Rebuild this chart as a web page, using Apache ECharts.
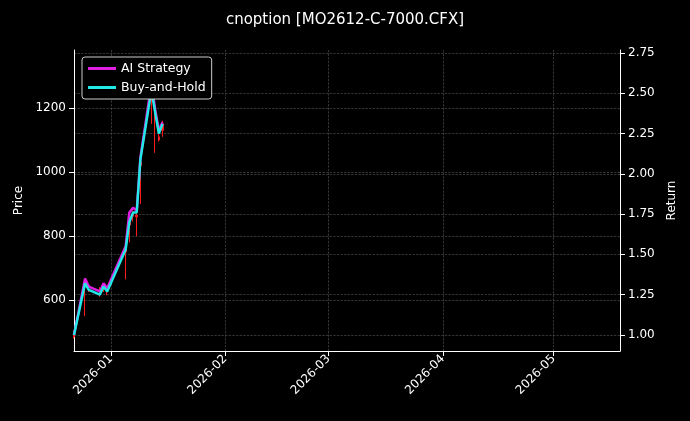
<!DOCTYPE html>
<html><head><meta charset="utf-8">
<script src="https://cdn.jsdelivr.net/npm/echarts@6/dist/echarts.min.js"></script>
<style>html,body{margin:0;background:#000}#c{width:690px;height:421px}</style></head>
<body><div id="c"></div>
<script>
const dates=['2025-12-22','2025-12-25','2025-12-26','2025-12-29','2025-12-30','2025-12-31','2026-01-05','2026-01-06','2026-01-07','2026-01-08','2026-01-09','2026-01-12','2026-01-13','2026-01-14','2026-01-15'];
// [open, close, low, high]
const candles=[[500,485,480,505],[660,650,550,665],[645,640,625,650],[630,620,610,640],[645,640,625,650],[630,625,615,640],[760,750,665,765],[850,835,780,870],[870,862,845,880],[865,860,800,875],[1030,1020,900,1035],[1240,1235,1150,1300],[1180,1170,1060,1230],[1110,1100,1095,1140],[1150,1130,1110,1160]];
const aiRet=[1.0,1.35,1.30,1.27,1.32,1.29,1.55,1.76,1.79,1.77,2.10,2.56,2.40,2.27,2.32];
const bhRet=[1.0,1.32,1.28,1.25,1.30,1.27,1.53,1.70,1.76,1.76,2.09,2.52,2.38,2.25,2.31];
const xTicks=['2026-01-01','2026-02-01','2026-03-01','2026-04-01','2026-05-01'];
const yLeftTicks=[600,800,1000,1200];
const yRightTicks=[1.0,1.25,1.5,1.75,2.0,2.25,2.5,2.75];
const t=s=>new Date(s+'T00:00:00Z').getTime();
const font='DejaVu Sans';
const grid={lineStyle:{color:'#555',type:'dashed',width:0.6}};
const chart=echarts.init(document.getElementById('c'));
chart.setOption({
 backgroundColor:'#000',animation:false,
 textStyle:{fontFamily:font,color:'#fff'},
 title:{text:'cnoption [MO2612-C-7000.CFX]',left:'center',top:8,textStyle:{color:'#fff',fontSize:15,fontWeight:'normal',fontFamily:font}},
 legend:{left:82,top:57,orient:'vertical',backgroundColor:'#000',borderColor:'#ccc',borderWidth:1,borderRadius:3,padding:[5,6],itemGap:6,
  textStyle:{color:'#fff',fontSize:12.5,fontFamily:font},itemWidth:28,itemHeight:3,icon:'rect',data:['AI Strategy','Buy-and-Hold']},
 grid:{left:74,right:70,top:50,bottom:70},
 xAxis:{type:'value',min:t('2025-12-22'),max:t('2026-05-19'),
  axisLine:{lineStyle:{color:'#fff'}},axisTick:{customValues:xTicks.map(t),lineStyle:{color:'#fff'}},
  axisLabel:{customValues:xTicks.map(t),rotate:45,margin:6,color:'#fff',fontSize:12,fontFamily:font,
   formatter:v=>{const d=new Date(v);return d.getUTCFullYear()+'-'+String(d.getUTCMonth()+1).padStart(2,'0');}},
  splitLine:{show:true,...grid}},
 yAxis:[{type:'value',min:441,max:1381,name:'Price',nameLocation:'middle',nameGap:44,nameTextStyle:{color:'#fff',fontSize:12,fontFamily:font},
   axisLine:{show:true,lineStyle:{color:'#fff'}},axisTick:{show:true,customValues:yLeftTicks},axisLabel:{customValues:yLeftTicks,color:'#fff',fontSize:12,fontFamily:font,formatter:v=>String(v)},splitLine:{show:true,...grid}},
  {type:'value',min:0.9,max:2.769,name:'Return',nameLocation:'middle',nameGap:46,nameTextStyle:{color:'#fff',fontSize:12,fontFamily:font},
   axisLine:{show:true,lineStyle:{color:'#fff'}},axisTick:{show:true,customValues:yRightTicks},axisLabel:{customValues:yRightTicks,color:'#fff',fontSize:12,fontFamily:font,formatter:v=>v.toFixed(2)},splitLine:{show:true,...grid}}],
 series:[
  {type:'candlestick',yAxisIndex:0,barWidth:2,data:dates.map((d,i)=>[t(d),...candles[i]]),
   itemStyle:{color:'#00ff66',color0:'#ff1a1a',borderColor:'#00ff66',borderColor0:'#ff1a1a'}},
  {name:'AI Strategy',type:'line',yAxisIndex:1,symbol:'none',data:dates.map((d,i)=>[t(d),aiRet[i]]),lineStyle:{color:'#e020e0',width:2.5},itemStyle:{color:'#e020e0'}},
  {name:'Buy-and-Hold',type:'line',yAxisIndex:1,symbol:'none',data:dates.map((d,i)=>[t(d),bhRet[i]]),lineStyle:{color:'#22e8e8',width:2.5},itemStyle:{color:'#22e8e8'}}
 ]
});
</script></body></html>
